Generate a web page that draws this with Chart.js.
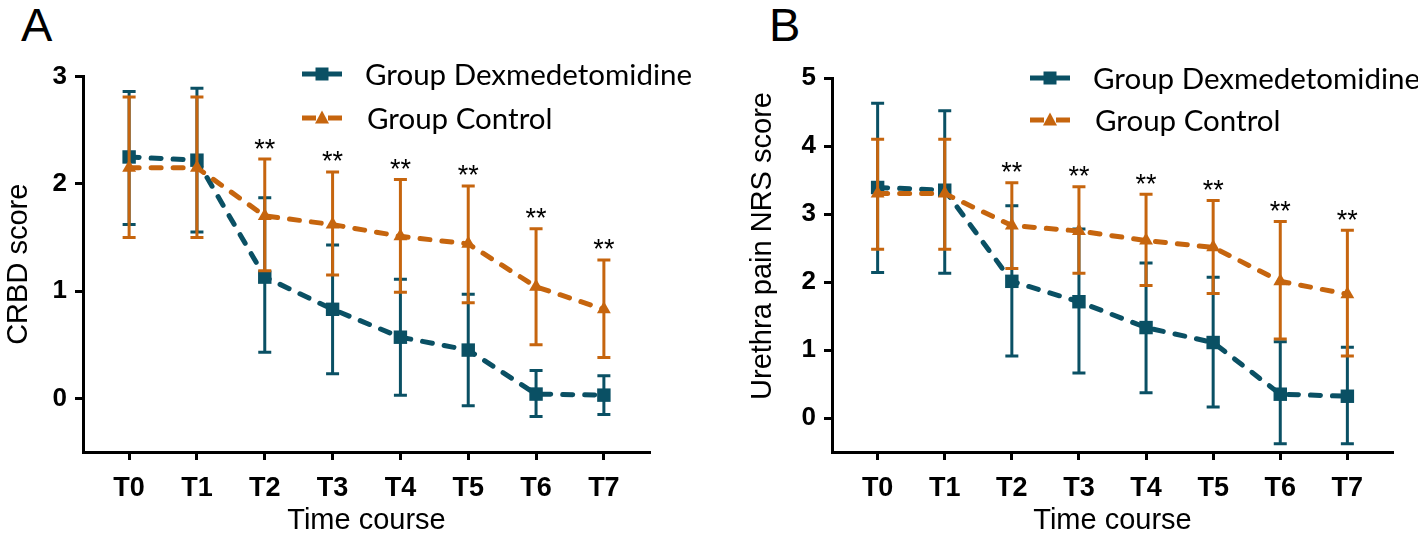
<!DOCTYPE html>
<html><head><meta charset="utf-8">
<script src="https://cdn.jsdelivr.net/npm/chart.js@4.4.1/dist/chart.umd.min.js"></script>
<style>
html,body{margin:0;padding:0;background:#fff;}
#wrap{position:relative;width:1418px;height:535px;overflow:hidden;background:#fff;}
.panel{position:absolute;top:0;height:535px;}
.lab{position:absolute;font-family:"Liberation Sans",Arial,sans-serif;font-size:47px;line-height:1;color:#000;}
</style></head><body>
<div id="wrap">
<div class="lab" style="left:21px;top:1px">A</div>
<div class="lab" style="left:769px;top:1px">B</div>
<div class="panel" style="left:0;width:709px"><canvas id="cA" width="709" height="535"></canvas></div>
<div class="panel" style="left:744px;width:674px"><canvas id="cB" width="674" height="535"></canvas></div>
</div>
<script>
// ---- data ----
const timePoints = ['T0','T1','T2','T3','T4','T5','T6','T7'];
const seriesNames = ['Group Dexmedetomidine','Group Control'];
const significance = ['', '', '**', '**', '**', '**', '**', '**'];

// Panel A: CRBD score (mean, upper and lower error-bar ends)
const crbdDexMean  = [2.25, 2.22, 1.13, 0.83, 0.57, 0.45, 0.04, 0.03];
const crbdDexUpper = [2.86, 2.89, 1.87, 1.43, 1.11, 0.97, 0.26, 0.21];
const crbdDexLower = [1.62, 1.55, 0.43, 0.23, 0.03, -0.07, -0.17, -0.15];
const crbdCtrlMean  = [2.15, 2.15, 1.70, 1.62, 1.51, 1.44, 1.04, 0.83];
const crbdCtrlUpper = [2.81, 2.81, 2.23, 2.11, 2.04, 1.98, 1.58, 1.29];
const crbdCtrlLower = [1.50, 1.50, 1.19, 1.15, 0.99, 0.89, 0.50, 0.38];
const crbdYTicks = [0, 1, 2, 3];

// Panel B: Urethra pain NRS score
const nrsDexMean  = [3.39, 3.35, 2.01, 1.71, 1.33, 1.11, 0.35, 0.32];
const nrsDexUpper = [4.63, 4.52, 3.12, 2.78, 2.28, 2.07, 1.12, 1.04];
const nrsDexLower = [2.14, 2.13, 0.91, 0.66, 0.37, 0.16, -0.38, -0.38];
const nrsCtrlMean  = [3.30, 3.30, 2.83, 2.75, 2.61, 2.51, 2.01, 1.82];
const nrsCtrlUpper = [4.10, 4.10, 3.46, 3.40, 3.29, 3.20, 2.89, 2.76];
const nrsCtrlLower = [2.48, 2.48, 2.20, 2.13, 1.95, 1.83, 1.16, 0.91];
const nrsYTicks = [0, 1, 2, 3, 4, 5];

// ---- style ----
const TEAL = '#0a5064';
const ORANGE = '#c6650e';
const SANS = '"Liberation Sans", Arial, sans-serif';
const LEG = 'Lato, "Open Sans", sans-serif';

const errorBarPlugin = {
  id: 'errorBars',
  beforeDatasetDraw(chart, args) {
    const ds = chart.data.datasets[args.index];
    if (!ds.errLow) return;
    const xs = chart.scales.x, ys = chart.scales.y, ctx = chart.ctx;
    ctx.save();
    ctx.strokeStyle = ds.borderColor;
    ctx.lineWidth = 3;
    ctx.setLineDash([]);
    ctx.lineCap = 'butt';
    ds.errLow.forEach((lo, i) => {
      const hi = ds.errHigh[i];
      const x = xs.getPixelForValue(i);
      const y1 = ys.getPixelForValue(lo), y2 = ys.getPixelForValue(hi);
      ctx.beginPath();
      ctx.moveTo(x, y1); ctx.lineTo(x, y2);
      ctx.moveTo(x - 6.5, y1); ctx.lineTo(x + 6.5, y1);
      ctx.moveTo(x - 6.5, y2); ctx.lineTo(x + 6.5, y2);
      ctx.stroke();
    });
    ctx.restore();
  }
};

const annotPlugin = {
  id: 'annot',
  afterDatasetsDraw(chart, args, opts) {
    const ctx = chart.ctx, xs = chart.scales.x, ys = chart.scales.y;
    ctx.save();
    // significance marks above the control upper bar
    ctx.fillStyle = '#000';
    ctx.font = '27px ' + SANS;
    ctx.textAlign = 'center';
    ctx.textBaseline = 'middle';
    opts.sigRef.forEach((v, i) => {
      if (!significance[i]) return;
      ctx.fillText(significance[i], xs.getPixelForValue(i), ys.getPixelForValue(v) - 9);
    });
    // legend
    const ds = chart.data.datasets;
    opts.rows.forEach((r, k) => {
      const d = ds[k];
      ctx.fillStyle = d.borderColor;
      const xm = (opts.x0 + opts.x1) / 2;
      ctx.fillRect(opts.x0, r.y - 2.5, xm - 6 - opts.x0, 5);
      ctx.fillRect(xm + 6, r.y - 2.5, opts.x1 - xm - 6, 5);
      ctx.beginPath();
      if (d.pointStyle === 'rect') {
        ctx.rect(xm - 6.5, r.y - 6.5, 13, 13);
      } else {
        ctx.moveTo(xm, r.y - 7.5); ctx.lineTo(xm + 7, r.y + 5.5); ctx.lineTo(xm - 7, r.y + 5.5); ctx.closePath();
      }
      ctx.fill();
      ctx.fillStyle = '#000';
      ctx.font = '29.5px ' + LEG;
      ctx.textAlign = 'left';
      ctx.textBaseline = 'middle';
      ctx.fillText(d.label, r.tx, r.y + 1);
    });
    // custom-placed y axis title (when given)
    if (opts.yTitle) {
      ctx.save();
      ctx.translate(opts.yTitle.x, opts.yTitle.y);
      ctx.rotate(-Math.PI / 2);
      ctx.fillStyle = '#000';
      ctx.font = '29px ' + SANS;
      ctx.textAlign = 'center';
      ctx.textBaseline = 'middle';
      ctx.fillText(opts.yTitle.text, 0, 0);
      ctx.restore();
    }
    ctx.restore();
  }
};

function makeChart(id, p) {
  const pts = arr => arr.map((v, i) => ({x: i, y: v}));
  const axisFont = {family: SANS, size: 26, weight: 'bold'};
  return new Chart(document.getElementById(id), {
    type: 'line',
    data: {datasets: [
      {label: seriesNames[0], data: pts(p.dexMean), errLow: p.dexLower, errHigh: p.dexUpper,
       borderColor: TEAL, backgroundColor: TEAL, borderWidth: 5, borderDash: [10, 12], borderCapStyle: 'round',
       pointStyle: 'rect', pointRadius: 9.5, pointBorderWidth: 0, pointBackgroundColor: TEAL, tension: 0, order: 2, clip: false},
      {label: seriesNames[1], data: pts(p.ctrlMean), errLow: p.ctrlLower, errHigh: p.ctrlUpper,
       borderColor: ORANGE, backgroundColor: ORANGE, borderWidth: 5, borderDash: [10, 12], borderCapStyle: 'round',
       pointStyle: 'triangle', pointRadius: 8, pointBorderWidth: 0, pointBackgroundColor: ORANGE, tension: 0, order: 1, clip: false}
    ]},
    options: {
      responsive: false, animation: false, devicePixelRatio: 1,
      layout: {padding: {left: 0, right: p.padR, top: p.padT, bottom: 0}},
      plugins: {legend: {display: false}, tooltip: {enabled: false},
        annot: {sigRef: p.ctrlUpper, x0: p.legX0, x1: p.legX1, rows: p.legRows,
                yTitle: p.yTitlePos ? {text: p.yTitle, x: p.yTitlePos[0], y: p.yTitlePos[1]} : null}},
      scales: {
        x: {type: 'linear', min: -0.68, max: 7.68,
          afterBuildTicks: s => { s.ticks = timePoints.map((t, i) => ({value: i})); },
          ticks: {callback: v => timePoints[v], font: {family: SANS, size: 27, weight: 'bold'}, color: '#000', padding: 12, autoSkip: false, maxRotation: 0},
          grid: {drawOnChartArea: false, drawTicks: true, tickLength: 8, tickWidth: 3, tickColor: '#000'},
          border: {display: true, color: '#000', width: 3},
          title: {display: true, text: 'Time course', font: {family: SANS, size: 29, lineHeight: 1}, color: '#000', padding: {top: 0, bottom: 0}},
          afterFit: s => { s.height = 83; }},
        y: {type: 'linear', min: -0.5, max: p.yMax,
          afterBuildTicks: s => { s.ticks = p.yTicks.map(v => ({value: v})); },
          ticks: {font: axisFont, color: '#000', padding: 8},
          grid: {drawOnChartArea: false, drawTicks: true, tickLength: 8, tickWidth: 3, tickColor: '#000'},
          border: {display: true, color: '#000', width: 3},
          title: {display: !p.yTitlePos, text: p.yTitle, font: {family: SANS, size: 29, lineHeight: 1}, color: '#000', padding: {top: 4, bottom: 0}},
          afterFit: s => { s.width = p.yW; }}
      }
    },
    plugins: [errorBarPlugin, annotPlugin]
  });
}

makeChart('cA', {
  dexMean: crbdDexMean, dexUpper: crbdDexUpper, dexLower: crbdDexLower,
  ctrlMean: crbdCtrlMean, ctrlUpper: crbdCtrlUpper, ctrlLower: crbdCtrlLower,
  yTicks: crbdYTicks, yMax: 3, yTitle: 'CRBD score',
  padR: 59, padT: 76.5, yW: 83,
  legX0: 302, legX1: 342, legRows: [{y: 74, tx: 365}, {y: 118, tx: 367}]
});
makeChart('cB', {
  dexMean: nrsDexMean, dexUpper: nrsDexUpper, dexLower: nrsDexLower,
  ctrlMean: nrsCtrlMean, ctrlUpper: nrsCtrlUpper, ctrlLower: nrsCtrlLower,
  yTicks: nrsYTicks, yMax: 5, yTitle: 'Urethra pain NRS score', yTitlePos: [19, 246],
  padR: 25, padT: 78, yW: 88,
  legX0: 286, legX1: 326, legRows: [{y: 78, tx: 349}, {y: 120, tx: 351}]
});
</script>
</body></html>
